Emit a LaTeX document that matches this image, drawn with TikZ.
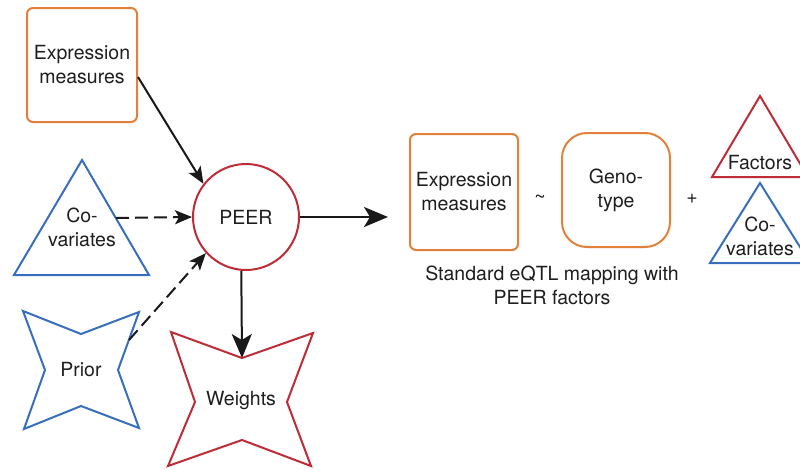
\documentclass[tikz,border=0pt]{standalone}
\usepackage{fontspec}
\setmainfont{TeX Gyre Heros}
\usetikzlibrary{arrows.meta,calc}
\definecolor{orng}{RGB}{228,128,58}
\definecolor{redc}{RGB}{190,45,55}
\definecolor{bluc}{RGB}{55,110,190}
\definecolor{txt}{RGB}{30,30,30}
\begin{document}
\begin{tikzpicture}[x=1pt,y=-1pt,
  every node/.style={font=\fontsize{19.5}{24}\selectfont, text=txt, align=center},
  shapeline/.style={line width=2pt, line join=miter},
  conn/.style={line width=2pt, draw=black!90, -{Stealth[length=17pt,width=14pt,inset=4pt]}},
  bigconn/.style={line width=2pt, draw=black!90, -{Stealth[length=24pt,width=20pt,inset=6pt]}},
  dashconn/.style={conn, dash pattern=on 13pt off 6pt}]
\useasboundingbox (0,0) rectangle (800,469);
\clip (0,0) rectangle (800,469);

% left part
\node[draw=orng, shapeline, rounded corners=6pt, minimum width=110pt, minimum height=114pt] (expr) at (82,65) {Expression\\measures};
\node[draw=redc, shapeline, circle, minimum size=106pt, inner sep=0pt] (peer) at (246,217) {PEER};

\draw[bluc, shapeline] (82,160) -- (149,275) -- (14,275) -- cycle;
\node (cov) at (82,227) {Co-\\variates};
\coordinate (covR) at (116,218);

\draw[bluc, shapeline] (23,311) -- (81,334) -- (139,312) -- (118,370) -- (139,428) -- (81,406) -- (24,429) -- (45,370) -- cycle;
\node (prior) at (81,370) {Prior};
\coordinate (priorR) at (129,340);

\draw[redc, shapeline] (171,332) -- (242,358) -- (313,333) -- (287,402) -- (311,466) -- (242,440) -- (168,466) -- (195,402) -- cycle;
\node (wts) at (241,401) {Weights};
\coordinate (wtsTop) at (242,358);

\coordinate (out) at (388,217);

\draw[conn] ($(expr.east)+(0,12)$) -- (peer.142);
\draw[dashconn] (covR) -- (peer.west);
\draw[dashconn] (priorR) -- (peer.222);
\draw[bigconn] (peer.east) -- (out);
\draw[bigconn] (peer.265) -- (wtsTop);

% right part
\node[draw=orng, shapeline, rounded corners=6pt, minimum width=108pt, minimum height=116pt] (expr2) at (464,192) {Expression\\measures};
\node (tilde) at (540,199) {\textasciitilde};
\node[draw=orng, shapeline, rounded corners=25pt, minimum width=108pt, minimum height=114pt] (geno) at (616,190) {Geno-\\type};
\node (plus) at (692,199) {+};

\draw[redc, shapeline] (760,96) -- (808,177) -- (712,177) -- cycle;
\node (fac) at (760,163) {Factors};
\draw[bluc, shapeline] (760,183) -- (810,263) -- (710,263) -- cycle;
\node (cov2) at (760,236) {Co-\\variates};

\node (cap) at (552,285) {Standard eQTL mapping with\\PEER factors};
\end{tikzpicture}
\end{document}
